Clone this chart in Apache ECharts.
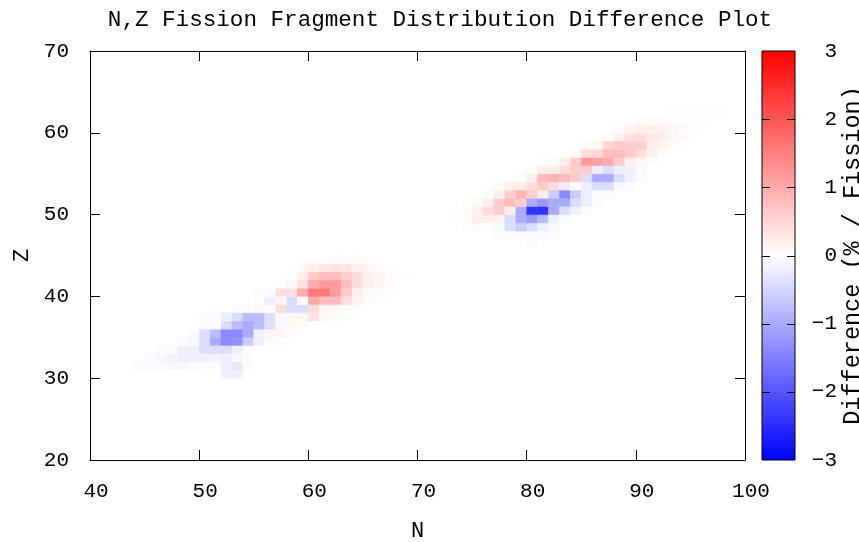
<!DOCTYPE html>
<html>
<head>
<meta charset="utf-8">
<script src="https://cdn.jsdelivr.net/npm/echarts@6/dist/echarts.min.js"></script>
<style>
html, body { margin: 0; padding: 0; background: #fff; }
#main { width: 859px; height: 542px; }
</style>
</head>
<body>
<div id="main"></div>
<script>
// 每一行 Z 的起始 N 和差值 (% / fission)
var rowZ = [30, 31, 32, 33, 34, 35, 36, 37, 38, 39, 40, 41, 42, 43, 44,
	46, 47, 48, 49, 50, 51, 52, 53, 54, 55, 56, 57, 58, 59, 60, 61, 62];
var rowN0 = [52, 44, 45, 46, 48, 49, 50, 50, 53, 55, 55, 57, 58, 59, 61,
	80, 77, 74, 73, 73, 74, 76, 77, 79, 80, 81, 84, 85, 87, 88, 90, 93];
var rowDiff = [
	[-0.2, -0.2],
	[-0.05, -0.05, -0.05, -0.1, -0.1, -0.05, -0.03, -0.03, -0.2, -0.3, -0.05],
	[-0.05, -0.1, -0.15, -0.2, -0.2, -0.2, -0.15, -0.2, -0.1, -0.03],
	[-0.03, -0.05, -0.2, -0.2, -0.4, -0.4, -0.4, -0.2, -0.05],
	[-0.05, -0.1, -0.4, -1.0, -1.4, -1.3, -0.6, -0.2, 0.05, 0.05],
	[-0.05, -0.4, -0.8, -1.4, -1.4, -1.0, -0.2, 0.15, 0.15, 0.05],
	[-0.03, -0.05, -0.4, -0.8, -1.0, -0.8, -0.4, -0.1, 0.1, 0.05],
	[-0.03, -0.05, -0.2, -0.4, -0.8, -0.8, -0.4, 0.1, 0.1, 0.15, 0.35, 0.1, 0.05],
	[-0.03, -0.05, 0.1, 0, 0.4, -0.4, -0.4, 0.4, 0.1, 0.1, 0.05, 0.03],
	[0.03, -0.2, 0.15, -0.4, 0, 1.0, 0.8, 0.8, 0.4, 0.15, 0.05, 0.03],
	[0.05, 0.05, 0.4, 0.35, 1.0, 1.6, 1.6, 1.2, 0.6, 0.2, 0.05, 0.05, 0.03],
	[0.03, 0.1, 0.4, 1.0, 1.2, 1.2, 0.8, 0.4, 0.2, 0.1, 0.05],
	[0.03, 0.2, 0.6, 0.8, 0.8, 0.6, 0.4, 0.2, 0.1, 0.05, 0.03],
	[0.1, 0.2, 0.3, 0.35, 0.3, 0.2, 0.1, 0.05, 0.03],
	[0.03, 0.05, 0.05, 0.05, 0.03, 0.02],
	[-0.03],
	[-0.03, -0.05, -0.05, -0.05, -0.05, -0.03],
	[0.03, 0.05, 0.03, -0.1, -0.4, -0.6, -0.4, -0.2, -0.1],
	[0.02, 0.05, 0.2, 0.2, 0.15, -0.4, -1.0, -1.2, -0.8, -0.2, -0.05],
	[0.02, 0.05, 0.2, 0.4, 0.6, 0.2, -1.0, -2.4, -2.4, -1.0, -0.4, -0.2, -0.05],
	[0.03, 0.1, 0.2, 0.6, 0.8, 0.6, -1.0, -1.2, -1.0, -1.0, -0.4, -0.2, -0.05],
	[0.05, 0.2, 0.6, 0.9, 0.6, 0.2, -0.6, -1.4, -0.6, -0.2, -0.05, -0.05],
	[0.05, 0.2, 0.2, 0.4, 0.6, 0.4, -0.2, 0, -0.2, -0.4, -0.4, -0.1, -0.03],
	[0.05, 0.2, 0.8, 0.9, 0.8, 0.6, -0.4, -1.0, -1.0, -0.4, -0.2, -0.05],
	[0.05, 0.2, 0.2, 0.4, 0.6, 0.6, -0.2, -0.4, -0.2, -0.2, -0.05],
	[0.03, 0.05, 0.2, 0.6, 1.2, 1.1, 1.0, 0.6, 0.2, 0.1, 0.03],
	[0.05, 0.4, 0.45, 0.8, 0.8, 0.6, 0.4, 0.2, 0.05],
	[0.05, 0.15, 0.5, 0.6, 0.6, 0.55, 0.2, 0.15, 0.05],
	[0.05, 0.2, 0.35, 0.4, 0.3, 0.2, 0.1, 0.05],
	[0.05, 0.15, 0.2, 0.2, 0.15, 0.1, 0.05, 0.03],
	[0.05, 0.05, 0.05, 0.04, 0.03, 0.03, 0.02],
	[0.03, 0.03, 0.03, 0.03, 0.03]
];
var cbColors = ['#0000ff', '#ffffff', '#ff0000']; // -3 .. 0 .. 3
var cbTicks = [-2, -1, 0, 1, 2];

var data = []; // [N, Z, diff]
for (var i = 0; i < rowZ.length; i++) {
	for (var j = 0; j < rowDiff[i].length; j++) {
		data.push([rowN0[i] + j, rowZ[i], rowDiff[i][j]]);
	}
}

var monoFont = '"Liberation Mono", "DejaVu Sans Mono", monospace';
var lineStyle = { color: '#000', width: 1 };
var axisLine = { show: true, onZero: false, lineStyle: lineStyle };
var noLine = { show: false, onZero: false };

var chart = echarts.init(document.getElementById('main'));
var option = {
	backgroundColor: '#fff',
	animation: false,
	title: {
		text: 'N,Z Fission Fragment Distribution Difference Plot',
		left: 435, top: 4, textAlign: 'center',
		textStyle: { fontFamily: monoFont, fontSize: 22.6, fontWeight: 'normal', color: '#000' }
	},
	grid: [
		{ left: 90, top: 51, width: 655, height: 409, outerBoundsMode: 'none', containLabel: false },
		{ left: 762, top: 51, width: 33, height: 409, outerBoundsMode: 'none', containLabel: false }
	],
	xAxis: [
		{
			type: 'value', gridIndex: 0, min: 40, max: 100, interval: 10, position: 'bottom',
			name: 'N', nameLocation: 'middle', nameGap: 60,
			nameTextStyle: { fontFamily: monoFont, fontSize: 22, color: '#000' },
			axisLine: axisLine, splitLine: { show: false },
			axisTick: { inside: true, length: 10, lineStyle: lineStyle },
			axisLabel: { margin: 21, padding: [0, 0, 0, 12], fontFamily: monoFont, fontSize: 21, color: '#000' }
		},
		{
			type: 'value', gridIndex: 0, min: 40, max: 100, interval: 10, position: 'top',
			axisLine: axisLine, splitLine: { show: false },
			axisTick: { inside: true, length: 10, lineStyle: lineStyle },
			axisLabel: { show: false }
		},
		{
			type: 'value', gridIndex: 1, min: 0, max: 1, position: 'bottom',
			axisLine: noLine, splitLine: { show: false },
			axisTick: { show: false }, axisLabel: { show: false }
		}
	],
	yAxis: [
		{
			type: 'value', gridIndex: 0, min: 20, max: 70, interval: 10, position: 'left',
			name: 'Z', nameLocation: 'middle', nameGap: 57, nameRotate: 90,
			nameTextStyle: { fontFamily: monoFont, fontSize: 22, color: '#000' },
			axisLine: axisLine, splitLine: { show: false },
			axisTick: { show: true, inside: true, length: 10, lineStyle: lineStyle },
			axisLabel: { margin: 21, fontFamily: monoFont, fontSize: 21, color: '#000' }
		},
		{
			type: 'value', gridIndex: 0, min: 20, max: 70, interval: 10, position: 'right',
			axisLine: axisLine, splitLine: { show: false },
			axisTick: { show: true, inside: true, length: 10, lineStyle: lineStyle },
			axisLabel: { show: false }
		},
		{
			type: 'value', gridIndex: 1, min: -3, max: 3, interval: 1, position: 'right',
			name: 'Difference (% / Fission)', nameLocation: 'middle', nameGap: 41, nameRotate: 90,
			nameTextStyle: { fontFamily: monoFont, fontSize: 23.5, color: '#000' },
			axisLine: noLine, splitLine: { show: false },
			axisTick: { show: false },
			axisLabel: {
				margin: 42, align: 'right', fontFamily: monoFont, fontSize: 21, color: '#000',
				formatter: function (v) { return v < 0 ? '\u2212' + (-v) : String(v); }
			}
		}
	],
	visualMap: {
		type: 'continuous', show: false, min: -3, max: 3, dimension: 2, seriesIndex: 0,
		inRange: { color: cbColors }
	},
	series: [{
		type: 'custom',
		xAxisIndex: 0, yAxisIndex: 0,
		clip: true,
		renderItem: function (params, api) {
			var p0 = api.coord([api.value(0), api.value(1) + 1]);
			var p1 = api.coord([api.value(0) + 1, api.value(1)]);
			var c = api.visual('color');
			return {
				type: 'rect',
				shape: { x: p0[0], y: p0[1], width: p1[0] - p0[0], height: p1[1] - p0[1] },
				style: { fill: c, stroke: c, lineWidth: 0.5 }
			};
		},
		encode: { x: 0, y: 1 },
		data: data
	}, {
		// 色标：渐变条、边框和刻度
		type: 'custom',
		xAxisIndex: 2, yAxisIndex: 2,
		silent: true,
		renderItem: function (params, api) {
			var top = api.coord([0, 3]);
			var bot = api.coord([1, -3]);
			var children = [{
				type: 'rect', z2: 0,
				shape: { x: top[0], y: top[1], width: bot[0] - top[0], height: bot[1] - top[1] },
				style: {
					fill: new echarts.graphic.LinearGradient(0, 0, 0, 1, [
						{ offset: 0, color: cbColors[2] },
						{ offset: 0.5, color: cbColors[1] },
						{ offset: 1, color: cbColors[0] }
					]),
					stroke: '#000', lineWidth: 1
				}
			}];
			for (var k = 0; k < cbTicks.length; k++) {
				var l = api.coord([0, cbTicks[k]]);
				var r = api.coord([1, cbTicks[k]]);
				var y = Math.round(l[1]) + 0.5;
				children.push({ type: 'line', z2: 10, shape: { x1: l[0], y1: y, x2: l[0] + 8, y2: y }, style: { stroke: '#000', lineWidth: 1 } });
				children.push({ type: 'line', z2: 10, shape: { x1: r[0] - 8, y1: y, x2: r[0], y2: y }, style: { stroke: '#000', lineWidth: 1 } });
			}
			return { type: 'group', children: children };
		},
		encode: { x: 0, y: 1 },
		data: [[0, 0]]
	}]
};
chart.setOption(option);
</script>
</body>
</html>
